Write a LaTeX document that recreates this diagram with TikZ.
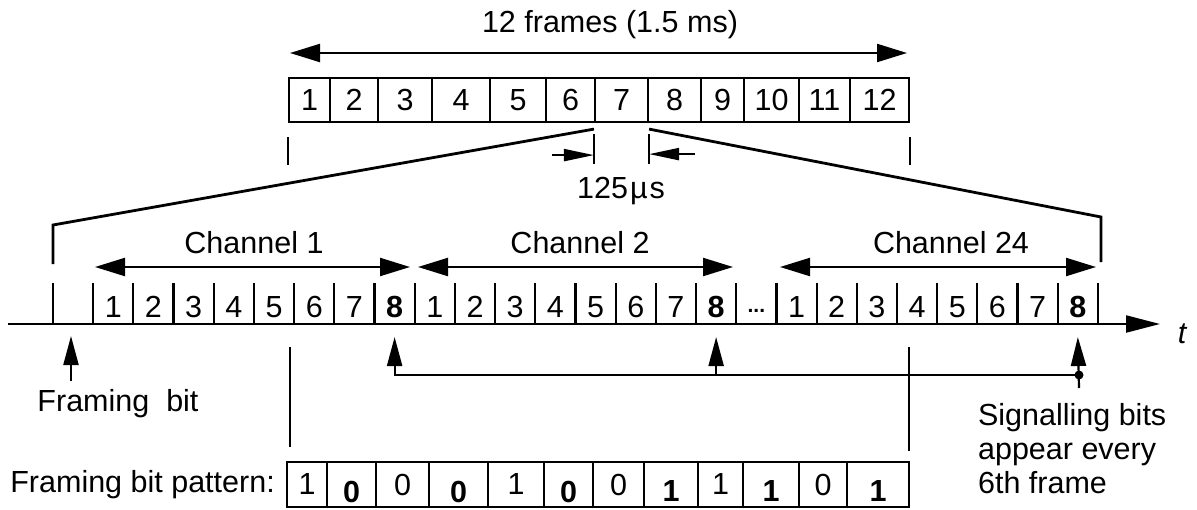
\documentclass[tikz,border=0pt]{standalone}
\usepackage{fontspec}
\setmainfont{Liberation Sans}
\usetikzlibrary{arrows.meta,positioning}
\tikzset{
  span/.style={{Triangle[length=30pt,width=18pt]}-{Triangle[length=30pt,width=18pt]}},
  pointer/.style={-{Triangle[length=29pt,width=15pt]}},
  narrow/.style={-{Triangle[length=30pt,width=12pt]}},
  timeaxis/.style={-{Triangle[length=34pt,width=17pt]}},
  fan/.style={line width=2.8pt},
  framebox/.style={draw, minimum height=44pt},
  bitbox/.style={draw, minimum height=45pt}
}
\begin{document}
\begin{tikzpicture}[x=1pt,y=-1pt,line width=2.2pt,inner sep=0pt,
    font=\fontsize{30.5}{34}\selectfont]
  \useasboundingbox (0,0) rectangle (1197,509);

  \foreach \a/\b [count=\n] in {289/330,330/378,378/432,432/490,490/546,546/595,
      595/648,648/701,701/744,744/799,799/850,850/909}
    \node[framebox, minimum width={(\b-\a)*1pt}] (fr\n) at ({(\a+\b)/2},100) {\n};
  \coordinate (sl) at (290,53);
  \coordinate (sr) at (907,53);
  \draw[span] (sl) -- (sr);
  \node (total) at (610,25) {12 frames (1.5 ms)};
  \foreach \c in {fr1.south west, fr12.south east}
    \draw ([yshift=-14pt]\c) -- ++(0,28);
  \foreach \c in {fr7.south west, fr7.south east}
    \draw ([yshift=-11pt]\c) -- ++(0,30);
  \draw[narrow] ([shift={(-42pt,-32pt)}]fr7.south west) -- ++(42,0);
  \draw[narrow] ([shift={(46pt,-31pt)}]fr7.south east) -- ++(-46,0);
  \node (period) at (621,191) {125\kern2ptµ\kern2pt s};

  \coordinate (fl) at (53,264);
  \coordinate (fr) at (1101,262);
  \draw[fan] (fl) -- (53,225) -- ([yshift=-6pt]fr7.south west);
  \draw[fan] (fr) -- (1101,217) -- ([yshift=-6pt]fr7.south east);

  \coordinate (c1a) at (95,267);  \coordinate (c1b) at (410,267);
  \coordinate (c2a) at (418,267); \coordinate (c2b) at (733,267);
  \coordinate (c3a) at (780,267); \coordinate (c3b) at (1096,267);
  \draw[span] (c1a) -- (c1b);
  \draw[span] (c2a) -- (c2b);
  \draw[span] (c3a) -- (c3b);
  \node (ch1) at (254,243) {Channel 1};
  \node (ch2) at (580,243) {Channel 2};
  \node (ch24) at (951,243) {Channel 24};

  \coordinate (t0) at (8,324);
  \coordinate (t1) at (1160,324);
  \draw[timeaxis] (t0) -- (t1);
  \node (tlab) at (1182,334) {\itshape t};
  \foreach \k in {0,...,26}
    \draw ({53+\k*40.19},283) -- ({53+\k*40.19},324);
  \foreach \lab [count=\k] in {1,2,3,4,5,6,7,\textbf{8},1,2,3,4,5,6,7,\textbf{8},{},
      1,2,3,4,5,6,7,\textbf{8}}
    \node (s\k) at ({53+(\k+0.5)*40.19},307) {\lab};
  \node (dots) at ([yshift=-4pt]s17.center) {\bfseries\fontsize{21}{21}\selectfont...};

  \coordinate (fbt) at (71,381);
  \draw[pointer] (fbt) -- ++(0,-45);
  \node (fbit) at (118,404) {Framing\ \ bit};

  \coordinate (sig) at (1079,375);
  \coordinate (tips) at (0,337);
  \draw[pointer] (sig) -- (sig -| s8) -- (s8 |- tips);
  \draw[pointer] (sig -| s16) -- (s16 |- tips);
  \draw[pointer] ([yshift=-13pt]sig) -- (s25 |- tips);
  \fill (sig) circle (4.5pt);
  \node[anchor=west, align=left] (sigtext) at (977,449)
    {Signalling bits\\appear every\\6th frame};

  \foreach \a/\b/\v/\dy [count=\n] in {287/327/1/0pt, 327/376/\textbf{0}/-7pt,
      376/429/0/0pt, 429/488/\textbf{0}/-7pt, 488/544/1/0pt, 544/593/\textbf{0}/-7pt,
      593/644/0/0pt, 644/698/\textbf{1}/-7pt, 698/743/1/0pt, 743/799/\textbf{1}/-7pt,
      799/847/0/0pt, 847/909/\textbf{1}/-7pt} {
    \node[bitbox, minimum width={(\b-\a)*1pt}] (pb\n) at ({(\a+\b)/2},484.5) {};
    \node (bit\n) at ([yshift=\dy]pb\n.center) {\v};
  }
  \node[left=10pt of pb1] (fbp) {Framing bit pattern:};
  \coordinate (gl) at (290,347);
  \coordinate (gr) at (909,347);
  \draw (gl) -- ++(0,100);
  \draw (gr) -- ++(0,104);
\end{tikzpicture}
\end{document}
